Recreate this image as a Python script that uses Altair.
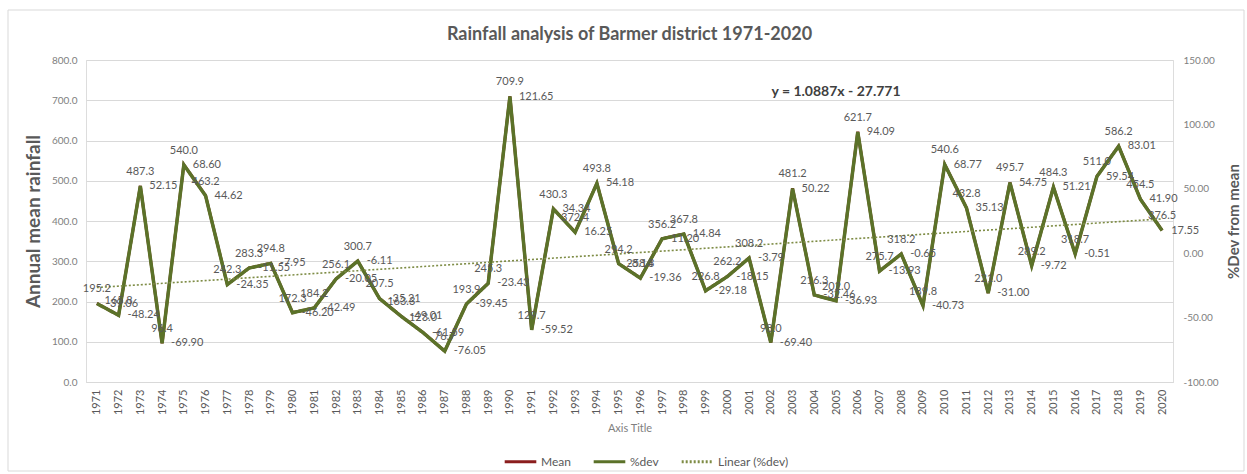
import altair as alt
import pandas as pd

# Annual rainfall (mm) and percentage deviation from the long-term mean, Barmer 1971-2020
years = [str(y) for y in range(1971, 2021)]
rainfall = [
    195.2, 165.8, 487.3, 96.4, 540.0, 463.2, 242.3, 283.3, 294.8, 172.3,
    184.2, 256.1, 300.7, 207.5, 163.3, 123.0, 76.7, 193.9, 245.3, 709.9,
    129.7, 430.3, 372.4, 493.8, 294.2, 258.3, 356.2, 367.8, 226.8, 262.2,
    308.2, 98.0, 481.2, 216.3, 202.0, 621.7, 275.7, 318.2, 189.8, 540.6,
    432.8, 221.0, 495.7, 289.2, 484.3, 318.7, 511.0, 586.2, 454.5, 376.5,
]
pct_dev = [
    -39.06, -48.24, 52.15, -69.90, 68.60, 44.62, -24.35, -11.55, -7.95, -46.20,
    -42.49, -20.05, -6.11, -35.21, -49.01, -61.59, -76.05, -39.45, -23.43, 121.65,
    -59.52, 34.34, 16.25, 54.18, -8.14, -19.36, 11.20, 14.84, -29.18, -18.15,
    -3.79, -69.40, 50.22, -32.46, -36.93, 94.09, -13.93, -0.65, -40.73, 68.77,
    35.13, -31.00, 54.75, -9.72, 51.21, -0.51, 59.54, 83.01, 41.90, 17.55,
]

series_names = ["Mean", "%dev", "Linear (%dev)"]
series_colors = ["#8B1E1E", "#5B7229", "#7E8C45"]
series_dashes = [[1, 0], [1, 0], [2, 2]]

trend_label = ["y = 1.0887x - 27.771"]
trend_label_year = ["2005"]
trend_label_rain = [720]

left_ticks = list(range(0, 801, 100))
right_ticks = [-100, -50, 0, 50, 100, 150]

df = pd.DataFrame({
    "year": years,
    "idx": list(range(1, len(years) + 1)),
    "rain": rainfall,
    "dev": pct_dev,
})
eq_df = pd.DataFrame({"year": trend_label_year, "rain": trend_label_rain, "label": trend_label})

FONT = "Lato"
GREY = "#595959"
LIGHT = "#808080"
HYPHEN_EXPR = "replace(datum.label, '\u2212', '-')"

x_scale = alt.Scale(type="point", padding=0.5)
x_enc = alt.X(
    "year:O",
    scale=x_scale,
    sort=years,
    axis=alt.Axis(
        title="Axis Title", labelAngle=270, ticks=False, grid=False,
        domainColor="#D9D9D9", labelColor=GREY, labelFontSize=11, labelFont=FONT,
        labelPadding=7, titleColor=LIGHT, titleFontSize=11, titleFont=FONT,
        titleFontWeight="normal", titlePadding=8,
    ),
)
x_plain = alt.X("year:O", scale=x_scale, sort=years)

rain_scale = alt.Scale(domain=[0, 800], nice=False, zero=False)
dev_scale = alt.Scale(domain=[-100, 150], nice=False, zero=False)

legend_cfg = alt.Legend(
    title=None, orient="none", direction="horizontal", legendX=417, legendY=384,
    symbolType="stroke", symbolSize=1000, symbolStrokeWidth=3, labelFont=FONT,
    labelFontSize=12, labelColor=GREY, columnPadding=16, labelOffset=3,
)
color_scale = alt.Scale(domain=series_names, range=series_colors)
dash_scale = alt.Scale(domain=series_names, range=series_dashes)


def series_enc():
    return dict(
        color=alt.Color("series:N", scale=color_scale, legend=legend_cfg),
        strokeDash=alt.StrokeDash("series:N", scale=dash_scale, legend=legend_cfg),
    )


base = alt.Chart(df).transform_calculate(
    rain_label="format(datum.rain, '.1f')",
    dev_label="replace(format(datum.dev, '.2f'), '\u2212', '-')",
)

# Left axis: annual rainfall
mean_line = base.transform_calculate(series="'Mean'").mark_line(strokeWidth=3).encode(
    x=x_enc,
    y=alt.Y(
        "rain:Q", scale=rain_scale,
        axis=alt.Axis(
            orient="left", title="Annual mean rainfall", values=left_ticks, format=".1f",
            grid=True, gridColor="#D9D9D9", ticks=False, domain=False,
            labelColor=LIGHT, labelFontSize=10, labelFont=FONT, labelPadding=9,
            titleColor=GREY, titleFontSize=19, titleFont=FONT, titleFontWeight="bold",
            titlePadding=8,
        ),
    ),
    **series_enc(),
)
rain_text = base.mark_text(dy=-14, fontSize=11, font=FONT, color=GREY).encode(
    x=x_plain,
    y=alt.Y("rain:Q", scale=rain_scale, axis=None),
    text="rain_label:N",
)
eq_text = alt.Chart(eq_df).mark_text(
    fontSize=14, font=FONT, fontWeight="bold", color="#404040"
).encode(
    x=x_plain,
    y=alt.Y("rain:Q", scale=rain_scale, axis=None),
    text="label:N",
)

# Right axis: % deviation from mean, with its linear trend
dev_line = base.transform_calculate(series="'%dev'").mark_line(strokeWidth=3.5).encode(
    x=x_plain,
    y=alt.Y(
        "dev:Q", scale=dev_scale,
        axis=alt.Axis(
            orient="right", title="%Dev from mean", values=right_ticks, format=".2f",
            labelExpr=HYPHEN_EXPR,
            grid=False, ticks=False, domain=False,
            labelColor=LIGHT, labelFontSize=10, labelFont=FONT, labelPadding=10,
            titleColor=GREY, titleFontSize=15, titleFont=FONT, titleFontWeight="bold",
            titleAngle=270, titleBaseline="top", titlePadding=8,
        ),
    ),
    **series_enc(),
)
dev_text = base.mark_text(align="left", baseline="middle", dx=9, fontSize=11, font=FONT, color=GREY).encode(
    x=x_plain,
    y=alt.Y("dev:Q", scale=dev_scale, axis=None),
    text="dev_label:N",
)
trend = (
    alt.Chart(df)
    .transform_regression("idx", "dev", method="linear", extent=[1, 50])
    .transform_calculate(year="toString(1970 + datum.idx)", series="'Linear (%dev)'")
    .mark_line(strokeWidth=1.6)
    .encode(
        x=x_plain,
        y=alt.Y("dev:Q", scale=dev_scale, axis=None),
        **series_enc(),
    )
)

# Outer chart-area frame
frame = alt.Chart(pd.DataFrame({"k": [0]})).mark_rect(
    fill="white", fillOpacity=0, stroke="#D9D9D9", strokeWidth=1
).encode(
    x=alt.value(-78), x2=alt.value(1158), y=alt.value(-50), y2=alt.value(411)
)

chart = (
    alt.layer(mean_line, dev_line, trend, rain_text, dev_text, eq_text, frame)
    .resolve_scale(y="independent")
    .properties(
        width=1087,
        height=322,
        title=alt.TitleParams(
            "Rainfall analysis of Barmer district 1971-2020",
            font=FONT, fontSize=18, fontWeight="bold", color=GREY, anchor="middle",
            offset=-34,
        ),
        autosize=alt.AutoSizeParams(type="none"),
        padding={"left": 86, "top": 60, "right": 74, "bottom": 92},
    )
    .configure_view(strokeWidth=0)
    .configure(background="white")
)

chart.save("out.html", embed_options={"renderer": "svg", "actions": False})
